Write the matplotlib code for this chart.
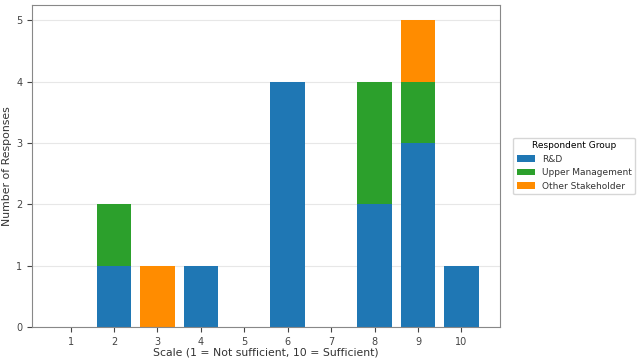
import matplotlib
matplotlib.use('Agg')
import matplotlib.pyplot as plt
import numpy as np

scale = [1, 2, 3, 4, 5, 6, 7, 8, 9, 10]
rnd = [0, 1, 0, 1, 0, 4, 0, 2, 3, 1]
upper_mgmt = [0, 1, 0, 0, 0, 0, 0, 2, 1, 0]
other = [0, 0, 1, 0, 0, 0, 0, 0, 1, 0]

groups = ['R&D', 'Upper Management', 'Other Stakeholder']
colors = ['#1f77b4', '#2ca02c', '#ff8c00']

fig, ax = plt.subplots(figsize=(6.41, 3.6), dpi=100)
bottom = np.zeros(len(scale))
for vals, name, col in zip([rnd, upper_mgmt, other], groups, colors):
    ax.bar(scale, vals, 0.8, bottom=bottom, color=col, label=name)
    bottom += np.array(vals)

ax.set_xticks(scale)
ax.set_yticks(range(0, 6))
ax.tick_params(labelsize=7, colors='#444444')
ax.set_xlabel('Scale (1 = Not sufficient, 10 = Sufficient)', fontsize=7.8,
              labelpad=1, color='#333333')
ax.set_ylabel('Number of Responses', fontsize=7.8, labelpad=3, color='#333333')
ax.grid(axis='y', alpha=0.3)
ax.set_axisbelow(True)
for s in ax.spines.values():
    s.set_color('#888888')

leg = ax.legend(title='Respondent Group', loc='center left', bbox_to_anchor=(1.018, 0.5),
                fontsize=6.5, title_fontsize=6.5)
plt.setp(leg.get_texts(), color='#333333')

fig.subplots_adjust(left=0.050, right=0.780, top=0.986, bottom=0.092)
fig.savefig('out.png')
